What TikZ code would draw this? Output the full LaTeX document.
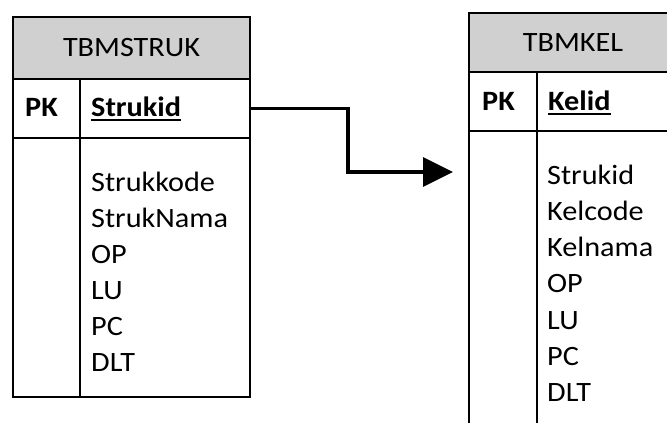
\documentclass[tikz,border=0pt]{standalone}
\usepackage{fontspec}
\setmainfont{Carlito}[FakeStretch=1.08]
\usetikzlibrary{arrows.meta}
\definecolor{hdrgray}{RGB}{208,208,208}
% underlined key field name
\newcommand\keyname[1]{\setbox0=\hbox{#1}\rlap{\rule[-5bp]{\wd0}{2bp}}\box0}
\tikzset{
  cell/.style={draw=black, line width=2bp, rectangle, inner sep=0pt, anchor=north west},
  title/.style={cell, fill=hdrgray, font=\fontsize{28bp}{34bp}\selectfont},
  label/.style={inner sep=0pt, anchor=base west, font=\fontsize{28bp}{34bp}\selectfont},
  keylabel/.style={label, font=\fontsize{28bp}{34bp}\selectfont\bfseries},
  link/.style={draw=black, line width=3.2bp, -{Triangle[length=30bp,width=29bp]}}
}
\begin{document}
\begin{tikzpicture}[x=1bp, y=-1bp]
  \clip (0,0) rectangle (667,422);
  \fill[white] (0,0) rectangle (667,422);

  % table TBMSTRUK
  \node[title, minimum width=237bp, minimum height=61.5bp] (s-title) at (12,16) {TBMSTRUK};
  \node[cell, minimum width=67bp, minimum height=59.5bp] (s-pk) at (12,77.5) {};
  \node[cell, minimum width=170bp, minimum height=59.5bp] (s-key) at (79,77.5) {};
  \node[cell, minimum width=67bp, minimum height=259bp] (s-side) at (12,137) {};
  \node[cell, minimum width=170bp, minimum height=259bp] (s-body) at (79,137) {};
  \node[keylabel] (s-pklabel) at (25,116) {PK};
  \node[keylabel] (s-keylabel) at (91,116) {\keyname{Strukid}};
  \foreach \t [count=\i] in {Strukkode,StrukNama,OP,LU,PC,DLT}
    \node[label] (s-f\i) at (91,{191+36*(\i-1)}) {\t};

  % table TBMKEL
  \node[title, minimum width=208bp, minimum height=59bp] (k-title) at (468,12) {TBMKEL};
  \node[cell, minimum width=68bp, minimum height=59bp] (k-pk) at (468,71) {};
  \node[cell, minimum width=140bp, minimum height=59bp] (k-key) at (536,71) {};
  \node[cell, minimum width=68bp, minimum height=320bp] (k-side) at (468,130) {};
  \node[cell, minimum width=140bp, minimum height=320bp] (k-body) at (536,130) {};
  \node[keylabel] (k-pklabel) at (482,110) {PK};
  \node[keylabel] (k-keylabel) at (548,110) {\keyname{Kelid}};
  \foreach \t [count=\i] in {Strukid,Kelcode,Kelnama,OP,LU,PC,DLT}
    \node[label] (k-f\i) at (547,{184+36.3*(\i-1)}) {\t};

  % relation arrow
  \coordinate (tip) at (453,172);
  \draw[link] (s-key.east) -- ++(97,0) |- (tip);
\end{tikzpicture}
\end{document}
